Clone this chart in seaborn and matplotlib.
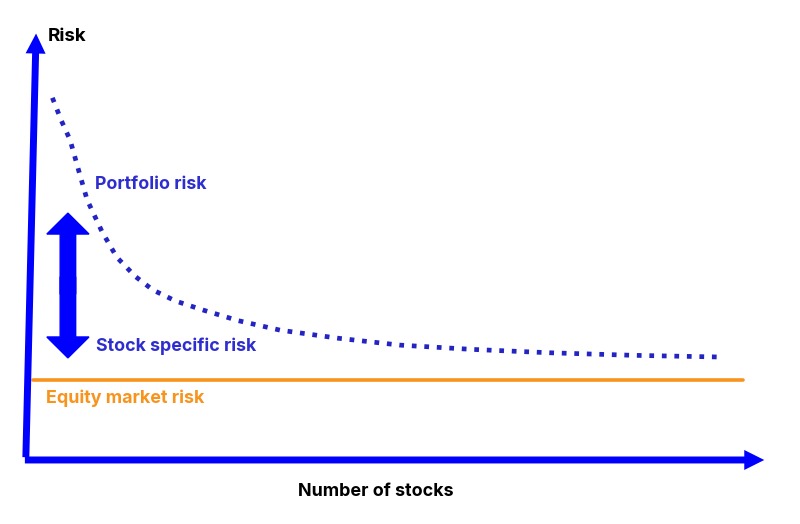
import numpy as np
import pandas as pd
import seaborn as sns
import matplotlib
import matplotlib.pyplot as plt
matplotlib.use('Agg')

# Portfolio risk curve
n_stocks = [3.3, 4.5, 5.7, 6.9, 8.0, 10.0, 12.0, 14.5, 16.9, 20.0, 23.7, 28.5, 34.1, 42.0, 50.3, 60.0, 70.6, 82.0, 93.9]
portfolio_risk = [84.8, 79.5, 74.9, 67.5, 60.9, 53.5, 47.5, 43.0, 39.8, 37.2, 35.1, 32.6, 30.4, 28.5, 26.9, 25.9, 25.1, 24.5, 24.1]

# Equity market risk level
market_risk = 18.7
market_x = [0.7, 96.8]

# Stock specific risk range (double arrow)
specific_x = 5.4
specific_range = [23.9, 57.8]

BLUE = '#0000ff'
DARK_BLUE = '#2424c4'
TEXT_BLUE = '#2e2ed0'
ORANGE = '#f7941d'

sns.set_style('white')
plt.rcParams['font.family'] = ['Inter', 'DejaVu Sans']

fig = plt.figure(figsize=(8, 5.24), dpi=100)
ax = fig.add_axes([0, 0, 1, 1])
ax.set_xlim(-3.79, 104.46)
ax.set_ylim(-14.99, 107.7)
ax.axis('off')

df = pd.DataFrame({'stocks': n_stocks, 'risk': portfolio_risk})
sns.lineplot(data=df, x='stocks', y='risk', ax=ax, color=DARK_BLUE,
             linestyle=':', linewidth=3.4, legend=False)

sns.lineplot(x=market_x, y=[market_risk, market_risk], ax=ax, color=ORANGE,
             linewidth=2.6, legend=False)

# axes arrows
axis_style = 'simple,tail_width=0.25,head_width=0.72,head_length=0.72'
ax.annotate('', xy=(1.1, 100.5), xytext=(-0.3, 0.0),
            arrowprops=dict(arrowstyle=axis_style, color=BLUE, lw=0, mutation_scale=20))
ax.annotate('', xy=(100.0, 0.0), xytext=(-0.8, 0.0),
            arrowprops=dict(arrowstyle=axis_style, color=BLUE, lw=0, mutation_scale=20))

# double arrow for stock specific risk: two halves from the middle,
# solid edges so the overlap does not show
lo, hi = specific_range
mid = (lo + hi) / 2
for end, start in zip([hi, lo], [mid - 2, mid + 2]):
    ax.arrow(specific_x, start, 0, end - start, width=2.1, head_width=5.7,
             head_length=4.9, length_includes_head=True,
             facecolor=BLUE, edgecolor=BLUE, lw=1.0, joinstyle='miter')

ax.text(2.7, 99.2, 'Risk', fontsize=13.5, fontweight='bold', color='black',
        ha='left', va='center')
ax.text(9.1, 64.4, 'Portfolio risk', fontsize=12.8, fontweight='bold', color=TEXT_BLUE,
        ha='left', va='center')
ax.text(9.2, 26.7, 'Stock specific risk', fontsize=12.8, fontweight='bold', color=TEXT_BLUE,
        ha='left', va='center')
ax.text(2.4, 14.5, 'Equity market risk', fontsize=12.9, fontweight='bold', color=ORANGE,
        ha='left', va='center')
ax.text(47.0, -7.3, 'Number of stocks', fontsize=12.9, fontweight='bold', color='black',
        ha='center', va='center')

plt.savefig('out.png', dpi=100)
plt.close()
